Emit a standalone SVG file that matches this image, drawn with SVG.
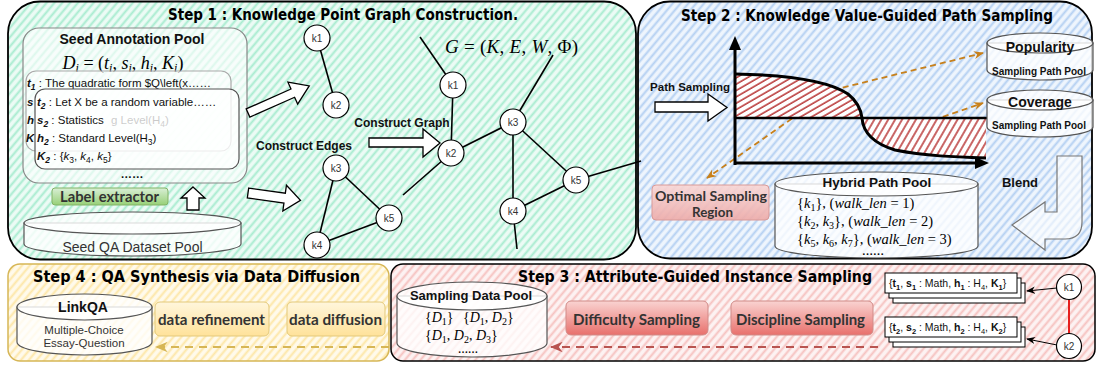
<svg xmlns="http://www.w3.org/2000/svg" width="1097" height="369" viewBox="0 0 1097 369">
<defs>
<style>
.title{font-family:"DejaVu Sans","Liberation Sans",sans-serif;font-weight:bold;font-size:15px;fill:#000}
.lbl{font-family:"Liberation Sans",Arial,sans-serif;font-weight:bold;fill:#111}
.reg{font-family:"Liberation Sans",Arial,sans-serif;fill:#111}
.cal{font-family:Lato,"Liberation Sans",sans-serif;font-weight:bold;fill:#333}
.math{font-family:"Liberation Serif","DejaVu Serif",serif;fill:#000}
.it{font-style:italic}
.bi{font-weight:bold;font-style:italic}
.b{font-weight:bold}
.node circle{fill:#fff;stroke:#000;stroke-width:1.2}
.node text{font-family:"Liberation Sans",Arial,sans-serif;font-size:10px;fill:#333;text-anchor:middle}
.edge{stroke:#000;stroke-width:1.6;fill:none}
.hollow{fill:#fff;stroke:#000;stroke-width:1.3}
.cyl{fill:#fff;fill-opacity:.78;stroke:#555;stroke-width:1.2}
.card{fill:#fff;stroke:#000;stroke-width:1}
.odash{stroke:#c8801a;stroke-width:1.8;stroke-dasharray:6 4;fill:none}
</style>
<pattern id="hg" width="6" height="6" patternUnits="userSpaceOnUse" patternTransform="rotate(40)"><rect width="6" height="6" fill="#ecfbf5"/><line x1="1.5" y1="0" x2="1.5" y2="6" stroke="#a8ecd0" stroke-width="2"/></pattern>
<pattern id="hb" width="6" height="6" patternUnits="userSpaceOnUse" patternTransform="rotate(40)"><rect width="6" height="6" fill="#eef5fd"/><line x1="1.5" y1="0" x2="1.5" y2="6" stroke="#b4d0f2" stroke-width="2"/></pattern>
<pattern id="hr" width="6" height="6" patternUnits="userSpaceOnUse" patternTransform="rotate(40)"><rect width="6" height="6" fill="#fdf2f2"/><line x1="1.5" y1="0" x2="1.5" y2="6" stroke="#f6c2c0" stroke-width="2"/></pattern>
<pattern id="hy" width="6" height="6" patternUnits="userSpaceOnUse" patternTransform="rotate(40)"><rect width="6" height="6" fill="#fffaeb"/><line x1="1.5" y1="0" x2="1.5" y2="6" stroke="#fde7a8" stroke-width="2"/></pattern>
<pattern id="hc1" width="5.5" height="6" patternUnits="userSpaceOnUse" patternTransform="rotate(60)"><rect width="5.5" height="6" fill="#fff"/><line x1="1" y1="0" x2="1" y2="6" stroke="#a50000" stroke-width="1.2"/></pattern>
<pattern id="hc2" width="6" height="6" patternUnits="userSpaceOnUse" patternTransform="rotate(30)"><rect width="6" height="6" fill="#fff"/><line x1="1" y1="0" x2="1" y2="6" stroke="#a50000" stroke-width="1.2"/></pattern>
<linearGradient id="gGreen" x1="0" y1="0" x2="0" y2="1"><stop offset="0" stop-color="#d9efd6"/><stop offset="1" stop-color="#97d077"/></linearGradient>
<linearGradient id="gRed" x1="0" y1="0" x2="0" y2="1"><stop offset="0" stop-color="#f9d3d1"/><stop offset="1" stop-color="#e8706c"/></linearGradient>
<linearGradient id="gYel" x1="0" y1="0" x2="0" y2="1"><stop offset="0" stop-color="#fff6dc"/><stop offset="1" stop-color="#ffe29a"/></linearGradient>
<linearGradient id="gOpt" x1="0" y1="0" x2="0" y2="1"><stop offset="0" stop-color="#f9d6d4"/><stop offset="1" stop-color="#eeaaa7"/></linearGradient>
<marker id="mo" viewBox="0 0 10 10" refX="9" refY="5" markerWidth="10" markerHeight="10" markerUnits="userSpaceOnUse" orient="auto"><path d="M0,1 L10,5 L0,9 L3,5 Z" fill="#c8801a"/></marker>
<marker id="mr" viewBox="0 0 10 10" refX="9" refY="5" markerWidth="13" markerHeight="13" markerUnits="userSpaceOnUse" orient="auto"><path d="M0,1 L10,5 L0,9 L3,5 Z" fill="#b85450"/></marker>
<marker id="my" viewBox="0 0 10 10" refX="9" refY="5" markerWidth="13" markerHeight="13" markerUnits="userSpaceOnUse" orient="auto"><path d="M0,1 L10,5 L0,9 L3,5 Z" fill="#d6b656"/></marker>
<marker id="mb" viewBox="0 0 10 10" refX="9" refY="5" markerWidth="9" markerHeight="9" markerUnits="userSpaceOnUse" orient="auto"><path d="M0,1 L10,5 L0,9 L3,5 Z" fill="#000"/></marker>
</defs>

<!-- Panels -->
<g id="step1-panel">
<rect x="8" y="1.5" width="628" height="258" rx="32" fill="url(#hg)" stroke="#000" stroke-width="1.8"/>
<text class="title" x="168" y="20" textLength="350" lengthAdjust="spacingAndGlyphs">Step 1 : Knowledge Point Graph Construction.</text>
</g>
<g id="step2-panel">
<rect x="638" y="1.5" width="454" height="257" rx="32" fill="url(#hb)" stroke="#000" stroke-width="1.8"/>
<text class="title" x="681" y="21" textLength="372" lengthAdjust="spacingAndGlyphs">Step 2 : Knowledge Value-Guided Path Sampling</text>
</g>
<g id="step4-panel">
<rect x="8" y="264" width="381" height="97" rx="12" fill="url(#hy)" stroke="#d6b656" stroke-width="1.5"/>
<text class="title" x="33" y="282" textLength="327" lengthAdjust="spacingAndGlyphs">Step 4 : QA Synthesis via Data Diffusion</text>
</g>
<g id="step3-panel">
<rect x="391" y="264" width="704" height="97" rx="12" fill="url(#hr)" stroke="#000" stroke-width="1.5"/>
<text class="title" x="518" y="282" textLength="354" lengthAdjust="spacingAndGlyphs">Step 3 : Attribute-Guided Instance Sampling</text>
</g>

<!-- Step 1 content -->
<g id="seed-annotation-pool">
<rect x="23" y="28" width="224" height="155" rx="16" fill="#fff" fill-opacity=".6" stroke="#888" stroke-width="1.2"/>
<text class="lbl" x="132" y="44" font-size="14" text-anchor="middle">Seed Annotation Pool</text>
<text class="math" x="123" y="69" font-size="18" text-anchor="middle"><tspan class="it">D</tspan><tspan class="it" font-size="12" dy="3">i</tspan><tspan dy="-3"> = (</tspan><tspan class="it">t</tspan><tspan class="it" font-size="12" dy="3">i</tspan><tspan dy="-3">, </tspan><tspan class="it">s</tspan><tspan class="it" font-size="12" dy="3">i</tspan><tspan dy="-3">, </tspan><tspan class="it">h</tspan><tspan class="it" font-size="12" dy="3">i</tspan><tspan dy="-3">, </tspan><tspan class="it">K</tspan><tspan class="it" font-size="12" dy="3">i</tspan><tspan dy="-3">)</tspan></text>
<rect x="26" y="71" width="205" height="80" rx="10" fill="#fff" fill-opacity=".5" stroke="#aaa" stroke-width="1.2"/>
<g class="reg" font-size="11.5">
<text x="27" y="87"><tspan class="bi">t</tspan><tspan class="bi" font-size="8.5" dy="3">1</tspan><tspan dy="-3"> : The quadratic form $Q\left(x……</tspan></text>
<text x="27" y="106" class="bi">s</text>
<text x="27" y="124" class="bi">h</text>
<text x="111" y="124">g Level(H<tspan font-size="8.5" dy="3">4</tspan><tspan dy="-3">)</tspan></text>
<text x="26" y="142" class="bi">K</text>
</g>
<rect x="35" y="89" width="204" height="80" rx="10" fill="#fff" fill-opacity=".78" stroke="#555" stroke-width="1.2"/>
<g class="reg" font-size="11.5">
<text x="37" y="106"><tspan class="bi">t</tspan><tspan class="bi" font-size="8.5" dy="3">2</tspan><tspan dy="-3"> : Let X be a random variable……</tspan></text>
<text x="37" y="124"><tspan class="bi">s</tspan><tspan class="bi" font-size="8.5" dy="3">2</tspan><tspan dy="-3"> : Statistics</tspan></text>
<text x="37" y="142"><tspan class="bi">h</tspan><tspan class="bi" font-size="8.5" dy="3">2</tspan><tspan dy="-3"> :  Standard Level(H</tspan><tspan font-size="8.5" dy="3">3</tspan><tspan dy="-3">)</tspan></text>
<text x="37" y="160"><tspan class="bi">K</tspan><tspan class="bi" font-size="8.5" dy="3">2</tspan><tspan dy="-3">  :  {</tspan><tspan class="it">k</tspan><tspan font-size="8.5" dy="3">3</tspan><tspan dy="-3">, </tspan><tspan class="it">k</tspan><tspan font-size="8.5" dy="3">4</tspan><tspan dy="-3">, </tspan><tspan class="it">k</tspan><tspan font-size="8.5" dy="3">5</tspan><tspan dy="-3">}</tspan></text>
<text x="132" y="178" text-anchor="middle" font-weight="bold">……</text>
</g>
</g>

<g id="label-extractor">
<rect x="52" y="188" width="116" height="17" rx="3" fill="url(#gGreen)" stroke="#82b366" stroke-width="1"/>
<text class="cal" x="60" y="201.5" font-size="15" textLength="99" lengthAdjust="spacingAndGlyphs">Label extractor</text>
</g>

<g id="seed-qa-dataset-pool">
<path class="cyl" d="M24,223 V244 A108.5,12 0 0 0 241,244 V223 Z"/>
<ellipse class="cyl" cx="132.5" cy="223" rx="108.5" ry="11"/>
<text class="reg" x="132.5" y="252" font-size="14" text-anchor="middle" style="fill:#333">Seed QA Dataset Pool</text>
</g>

<g id="up-arrow"><path class="hollow" d="M193,187 L205,198 L199,198 L199,210 L187,210 L187,198 L181,198 Z"/></g>

<g id="construct-labels">
<text class="lbl" x="402" y="127" font-size="12" text-anchor="middle">Construct Graph</text>
<text class="lbl" x="304" y="150" font-size="12" text-anchor="middle">Construct Edges</text>
<text class="math" x="445" y="53" font-size="19" textLength="133"><tspan class="it">G</tspan> = (<tspan class="it">K</tspan>, <tspan class="it">E</tspan>, <tspan class="it">W</tspan>, Φ)</text>
</g>

<g id="block-arrows">
<path class="hollow" transform="translate(248,113) rotate(-23.9)" d="M0,-4.5 L49,-4.5 L49,-12 L67,0 L49,12 L49,4.5 L0,4.5 Z"/>
<path class="hollow" transform="translate(248,193) rotate(8)" d="M0,-5 L37,-5 L37,-13 L53,0 L37,13 L37,5 L0,5 Z"/>
<path class="hollow" d="M369,138 L423,138 L423,129 L440,143 L423,157 L423,147 L369,147 Z"/>
<path class="hollow" d="M655,102 L708,102 L708,94 L727,107.5 L708,121 L708,112 L655,112 Z"/>
</g>

<!-- connectors -->
<g id="connectors">
<line class="edge" x1="317" y1="38" x2="336" y2="105"/>
<line class="edge" x1="336" y1="168" x2="389" y2="218"/>
<line class="edge" x1="336" y1="168" x2="317" y2="245"/>
<line class="edge" x1="317" y1="245" x2="389" y2="218"/>
<line class="edge" x1="420" y1="37" x2="453" y2="85"/>
<line class="edge" x1="453" y1="85" x2="451" y2="153"/>
<line class="edge" x1="451" y1="153" x2="403" y2="195"/>
<line class="edge" x1="451" y1="153" x2="513" y2="122"/>
<line class="edge" x1="513" y1="122" x2="553" y2="55"/>
<line class="edge" x1="513" y1="122" x2="576" y2="180"/>
<line class="edge" x1="513" y1="122" x2="513" y2="211"/>
<line class="edge" x1="513" y1="211" x2="576" y2="180"/>
<line class="edge" x1="576" y1="180" x2="641" y2="161"/>
<line class="edge" x1="513" y1="211" x2="517" y2="249"/>
<path class="odash" d="M833,90 L983,53" marker-end="url(#mo)"/>
<path class="odash" d="M833,90 L707,178" marker-end="url(#mo)"/>
<path class="odash" d="M905,130 L983,103" marker-end="url(#mo)"/>
<line x1="1057" y1="288" x2="1027" y2="291" stroke="#000" stroke-width="1" marker-end="url(#mb)"/>
<line x1="1057" y1="345" x2="1027" y2="339" stroke="#000" stroke-width="1" marker-end="url(#mb)"/>
<line x1="1069" y1="300" x2="1069" y2="333" stroke="#e61e1e" stroke-width="2"/>
<line x1="878" y1="347" x2="551" y2="347" stroke="#b85450" stroke-width="2" stroke-dasharray="8 6" marker-end="url(#mr)"/>
<line x1="389" y1="347" x2="156" y2="347" stroke="#d6b656" stroke-width="2" stroke-dasharray="8 6" marker-end="url(#my)"/>
</g>

<g id="node-k1a" class="node"><circle cx="317" cy="38" r="13"/><text x="317" y="41.5">k1</text></g>
<g id="node-k2a" class="node"><circle cx="336" cy="105" r="13"/><text x="336" y="108.5">k2</text></g>
<g id="node-k3a" class="node"><circle cx="336" cy="168" r="13"/><text x="336" y="171.5">k3</text></g>
<g id="node-k5a" class="node"><circle cx="389" cy="218" r="13"/><text x="389" y="221.5">k5</text></g>
<g id="node-k4a" class="node"><circle cx="317" cy="245" r="13"/><text x="317" y="248.5">k4</text></g>
<g id="node-k1b" class="node"><circle cx="453" cy="85" r="13"/><text x="453" y="88.5">k1</text></g>
<g id="node-k2b" class="node"><circle cx="451" cy="153" r="13"/><text x="451" y="156.5">k2</text></g>
<g id="node-k3b" class="node"><circle cx="513" cy="122" r="13"/><text x="513" y="125.5">k3</text></g>
<g id="node-k5b" class="node"><circle cx="576" cy="180" r="13"/><text x="576" y="183.5">k5</text></g>
<g id="node-k4b" class="node"><circle cx="513" cy="211" r="13"/><text x="513" y="214.5">k4</text></g>

<!-- Step 2 chart -->
<g id="chart">
<path d="M735,74 C790,75 830,82 848,94 C858,102 861,110 862,118 L735,118 Z" fill="url(#hc1)"/>
<path d="M862,118 C863,132 872,143 895,150 C925,156 955,157 986,158 L986,118 Z" fill="url(#hc2)"/>
<path d="M735,74 C790,75 830,82 848,94 C858,102 861,110 862,118 C863,132 872,143 895,150 C925,156 955,157 986,158" fill="none" stroke="#000" stroke-width="3"/>
<line x1="735" y1="118" x2="987" y2="118" stroke="#000" stroke-width="2.5"/>
<line x1="735" y1="165" x2="735" y2="47" stroke="#000" stroke-width="3"/>
<path d="M735,36 L741,50 L729,50 Z" fill="#000"/>
<line x1="734" y1="163" x2="976" y2="163" stroke="#000" stroke-width="3"/>
<path d="M989,163 L975,157 L975,169 Z" fill="#000"/>
<text class="lbl" x="690" y="91" font-size="11.5" text-anchor="middle">Path Sampling</text>
</g>

<g id="popularity-pool">
<path class="cyl" d="M987,43 V70 A53,10 0 0 0 1093,70 V43 Z"/>
<ellipse class="cyl" cx="1040" cy="43" rx="53" ry="10"/>
<text class="lbl" x="1040" y="52" font-size="14" text-anchor="middle">Popularity</text>
<text class="lbl" x="1039" y="75" font-size="10" text-anchor="middle">Sampling Path Pool</text>
</g>
<g id="coverage-pool">
<path class="cyl" d="M987,100 V127 A53,10 0 0 0 1093,127 V100 Z"/>
<ellipse class="cyl" cx="1040" cy="100" rx="53" ry="10"/>
<text class="lbl" x="1040" y="107" font-size="14" text-anchor="middle">Coverage</text>
<text class="lbl" x="1039" y="129" font-size="10" text-anchor="middle">Sampling Path Pool</text>
</g>

<g id="optimal-region">
<rect x="652" y="185" width="117" height="35" rx="4" fill="url(#gOpt)" fill-opacity=".9" stroke="#d99a98" stroke-width="1"/>
<text class="cal" x="655" y="201" font-size="14" textLength="112" lengthAdjust="spacingAndGlyphs">Optimal Sampling</text>
<text class="cal" x="692" y="217" font-size="14" textLength="41" lengthAdjust="spacingAndGlyphs">Region</text>
</g>

<g id="hybrid-path-pool">
<path class="cyl" d="M775,184 V246 A101.5,12 0 0 0 978,246 V184 Z"/>
<ellipse class="cyl" cx="876.5" cy="184" rx="101.5" ry="12"/>
<text class="lbl" x="877" y="187" font-size="13.5" text-anchor="middle">Hybrid Path Pool</text>
<g class="math" font-size="14.5">
<text x="797" y="208">{<tspan class="it">k</tspan><tspan font-size="10" dy="3">1</tspan><tspan dy="-3">}, (</tspan><tspan class="it">walk_len</tspan> = 1)</text>
<text x="797" y="226">{<tspan class="it">k</tspan><tspan font-size="10" dy="3">2</tspan><tspan dy="-3">, </tspan><tspan class="it">k</tspan><tspan font-size="10" dy="3">3</tspan><tspan dy="-3">}, (</tspan><tspan class="it">walk_len</tspan> = 2)</text>
<text x="797" y="244">{<tspan class="it">k</tspan><tspan font-size="10" dy="3">5</tspan><tspan dy="-3">, </tspan><tspan class="it">k</tspan><tspan font-size="10" dy="3">6</tspan><tspan dy="-3">, </tspan><tspan class="it">k</tspan><tspan font-size="10" dy="3">7</tspan><tspan dy="-3">}, (</tspan><tspan class="it">walk_len</tspan> = 3)</text>
<text x="873" y="255" text-anchor="middle" font-weight="bold" font-size="11">……</text>
</g>
</g>

<g id="blend">
<text class="lbl" x="1020" y="187" font-size="13" text-anchor="middle">Blend</text>
<path d="M1057,156 L1082,156 L1082,222 Q1082,239 1065,239 L1045,239 L1045,250 L1012,225 L1045,202 L1045,212 L1057,212 Z" fill="#fff" fill-opacity=".6" stroke="#777" stroke-width="1.2"/>
</g>

<!-- Step 4 -->
<g id="linkqa">
<path class="cyl" d="M17,307 V342 A67.5,13 0 0 0 152,342 V307 Z"/>
<ellipse class="cyl" cx="84.5" cy="307" rx="67.5" ry="13"/>
<text class="lbl" x="83" y="312" font-size="14" text-anchor="middle">LinkQA</text>
<text class="reg" x="84" y="334" font-size="11.5" text-anchor="middle" style="fill:#333">Multiple-Choice</text>
<text class="reg" x="84" y="347" font-size="11.5" text-anchor="middle" style="fill:#333">Essay-Question</text>
</g>
<g id="data-refinement">
<rect x="155" y="302" width="114" height="34" rx="5" fill="url(#gYel)" stroke="#e3c97a" stroke-width="1"/>
<text class="cal" x="158" y="325" font-size="15" textLength="107" lengthAdjust="spacingAndGlyphs">data refinement</text>
</g>
<g id="data-diffusion">
<rect x="287" y="302" width="98" height="34" rx="5" fill="url(#gYel)" stroke="#e3c97a" stroke-width="1"/>
<text class="cal" x="289" y="325" font-size="15" textLength="93" lengthAdjust="spacingAndGlyphs">data diffusion</text>
</g>

<!-- Step 3 -->
<g id="sampling-data-pool">
<path class="cyl" d="M397,296 V343 A75,14 0 0 0 547,343 V296 Z"/>
<ellipse class="cyl" cx="472" cy="296" rx="75" ry="14"/>
<text class="lbl" x="471" y="300" font-size="13" text-anchor="middle">Sampling Data Pool</text>
<g class="math" font-size="14">
<text x="425" y="322">{<tspan class="it">D</tspan><tspan font-size="10" dy="3">1</tspan><tspan dy="-3">}</tspan></text>
<text x="463" y="322">{<tspan class="it">D</tspan><tspan font-size="10" dy="3">1</tspan><tspan dy="-3">, </tspan><tspan class="it">D</tspan><tspan font-size="10" dy="3">2</tspan><tspan dy="-3">}</tspan></text>
<text x="425" y="340">{<tspan class="it">D</tspan><tspan font-size="10" dy="3">1</tspan><tspan dy="-3">, </tspan><tspan class="it">D</tspan><tspan font-size="10" dy="3">2</tspan><tspan dy="-3">, </tspan><tspan class="it">D</tspan><tspan font-size="10" dy="3">3</tspan><tspan dy="-3">}</tspan></text>
<text x="468" y="353" text-anchor="middle" font-weight="bold" font-size="10">……</text>
</g>
</g>
<g id="difficulty-sampling">
<rect x="566" y="301" width="142" height="34" rx="5" fill="url(#gRed)" stroke="#d08b88" stroke-width="1"/>
<text class="cal" x="573" y="325" font-size="15" textLength="127" lengthAdjust="spacingAndGlyphs">Difficulty Sampling</text>
</g>
<g id="discipline-sampling">
<rect x="731" y="301" width="142" height="34" rx="5" fill="url(#gRed)" stroke="#d08b88" stroke-width="1"/>
<text class="cal" x="736" y="325" font-size="15" textLength="129" lengthAdjust="spacingAndGlyphs">Discipline Sampling</text>
</g>
<g id="instance-card-1">
<rect class="card" x="893" y="283" width="132" height="20"/>
<rect class="card" x="889" y="278" width="132" height="20"/>
<rect class="card" x="885" y="273" width="132" height="20"/>
<text class="reg" x="889" y="287" font-size="10.5">{<tspan class="b">t</tspan><tspan class="b" font-size="7.5" dy="2.5">1</tspan><tspan dy="-2.5">, </tspan><tspan class="b">s</tspan><tspan class="b" font-size="7.5" dy="2.5">1</tspan><tspan dy="-2.5"> : Math, </tspan><tspan class="b">h</tspan><tspan class="b" font-size="7.5" dy="2.5">1</tspan><tspan dy="-2.5"> : H</tspan><tspan font-size="7.5" dy="2.5">4</tspan><tspan dy="-2.5">, </tspan><tspan class="b">K</tspan><tspan class="b" font-size="7.5" dy="2.5">1</tspan><tspan dy="-2.5">}</tspan></text>
</g>
<g id="instance-card-2">
<rect class="card" x="893" y="327" width="132" height="20"/>
<rect class="card" x="889" y="322" width="132" height="20"/>
<rect class="card" x="885" y="317" width="132" height="20"/>
<text class="reg" x="889" y="331" font-size="10.5">{<tspan class="b">t</tspan><tspan class="b" font-size="7.5" dy="2.5">2</tspan><tspan dy="-2.5">, </tspan><tspan class="b">s</tspan><tspan class="b" font-size="7.5" dy="2.5">2</tspan><tspan dy="-2.5"> : Math, </tspan><tspan class="b">h</tspan><tspan class="b" font-size="7.5" dy="2.5">2</tspan><tspan dy="-2.5"> : H</tspan><tspan font-size="7.5" dy="2.5">4</tspan><tspan dy="-2.5">, </tspan><tspan class="b">K</tspan><tspan class="b" font-size="7.5" dy="2.5">2</tspan><tspan dy="-2.5">}</tspan></text>
</g>
<g id="node-k1c" class="node"><circle cx="1069" cy="287" r="12.5"/><text x="1069" y="290.5">k1</text></g>
<g id="node-k2c" class="node"><circle cx="1069" cy="346" r="12.5"/><text x="1069" y="349.5">k2</text></g>
</svg>
